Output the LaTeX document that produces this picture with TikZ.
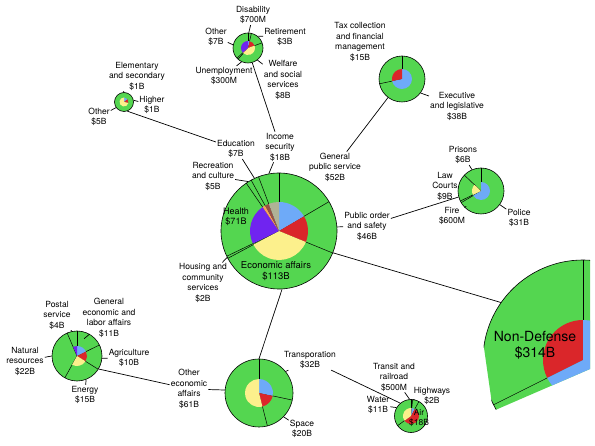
\documentclass[tikz,border=0pt]{standalone}
\usepackage{fontspec}
\setmainfont{TeX Gyre Heros}
\definecolor{hb_green}{RGB}{84,214,80}
\definecolor{hb_blue}{RGB}{110,170,248}
\definecolor{hb_red}{RGB}{218,38,42}
\definecolor{hb_yellow}{RGB}{252,240,140}
\definecolor{hb_purple}{RGB}{112,36,240}
\definecolor{hb_orange}{RGB}{246,160,90}
\definecolor{hb_brown}{RGB}{150,80,70}
\definecolor{hb_khaki}{RGB}{176,178,150}
\definecolor{hb_gray}{RGB}{150,150,150}
\tikzstyle{ring}=[circle,fill=hb_green,draw=black,line width=0.6pt,inner sep=0pt]
\tikzstyle{lbl}=[align=center,inner sep=1pt,font=\fontsize{8.5}{10.5}\selectfont]
\tikzstyle{link}=[line width=0.7pt]
\newcommand{\wedgefill}[5]{%
  \fill [#5] (#1.center) -- ++(#3:#2) arc [start angle=#3, end angle=#4, radius=#2] -- cycle;}
\newcommand{\spokes}[3]{%
  \foreach \a in {#3} \draw [line width=0.5pt] (#1.center) -- ++(\a:#2);}

\begin{document}
\begin{tikzpicture}[x=1pt,y=1pt]
    \useasboundingbox (0,0) rectangle (595,-446);
    \fill [white] (0,0) rectangle (595,-446);

    % centre: non-defense children
    \node [style=ring, minimum size=116pt] (cen) at (279,-231) {};
    \spokes{cen}{58}{90,30.4,-22.3,-151.9,-154.2,124.4,118.7,110.7}
    \wedgefill{cen}{29}{90}{30.4}{hb_blue}
    \wedgefill{cen}{29}{30.4}{-22.3}{hb_red}
    \wedgefill{cen}{29}{-22.3}{-151.9}{hb_yellow}
    \wedgefill{cen}{29}{-154.2}{-235.6}{hb_purple}
    \wedgefill{cen}{29}{-235.6}{-241.3}{hb_orange}
    \wedgefill{cen}{29}{-241.3}{-249.3}{hb_brown}
    \wedgefill{cen}{29}{-249.3}{-270}{hb_khaki}

    % general public service
    \node [style=ring, minimum size=46pt] (gps) at (402,-79) {};
    \spokes{gps}{23}{90,-168}
    \wedgefill{gps}{10}{90}{-168}{hb_blue}
    \wedgefill{gps}{10}{-168}{-270}{hb_red}

    % public order and safety
    \node [style=ring, minimum size=46pt] (pos) at (481,-191) {};
    \spokes{pos}{23}{90,-149.5,-154.1,136.4}
    \wedgefill{pos}{9}{90}{-149.5}{hb_blue}
    \wedgefill{pos}{9}{-154.1}{-223.6}{hb_yellow}

    % income security
    \node [style=ring, minimum size=30pt] (inc) at (248,-48) {};
    \spokes{inc}{15}{90,77,20,-131.6,-137.3}
    \wedgefill{inc}{7}{90}{77}{hb_blue}
    \wedgefill{inc}{7}{77}{20}{hb_red}
    \wedgefill{inc}{7}{20}{-131.6}{hb_yellow}
    \wedgefill{inc}{7}{-131.6}{-137.3}{hb_orange}
    \wedgefill{inc}{7}{-137.3}{-270}{hb_purple}

    % education
    \node [style=ring, minimum size=19pt] (edu) at (124,-102) {};
    \wedgefill{edu}{4.5}{90}{38.6}{hb_blue}
    \wedgefill{edu}{4.5}{38.6}{-12.9}{hb_red}
    \wedgefill{edu}{4.5}{-12.9}{-270}{hb_yellow}

    % economic affairs
    \node [style=ring, minimum size=68pt] (oea) at (259,-393) {};
    \spokes{oea}{34}{90,-12,-75.7}
    \wedgefill{oea}{14}{90}{-12}{hb_blue}
    \wedgefill{oea}{14}{-12}{-75.7}{hb_red}
    \wedgefill{oea}{14}{-75.7}{-270}{hb_yellow}

    % other economic affairs
    \node [style=ring, minimum size=50pt] (ooe) at (77,-356) {};
    \spokes{ooe}{25}{90,26.1,-32,-119.1,113.2}
    \wedgefill{ooe}{10}{90}{26.1}{hb_blue}
    \wedgefill{ooe}{10}{26.1}{-32}{hb_red}
    \wedgefill{ooe}{10}{-32}{-119.1}{hb_yellow}
    \wedgefill{ooe}{10}{-246.8}{-270}{hb_purple}

    % transportation
    \node [style=ring, minimum size=33pt] (trn) at (411,-416) {};
    \spokes{trn}{16.5}{90,84.3,61.4,-144.3}
    \wedgefill{trn}{8}{90}{84.3}{hb_gray}
    \wedgefill{trn}{8}{84.3}{61.4}{hb_blue}
    \wedgefill{trn}{8}{61.4}{-144.3}{hb_red}
    \wedgefill{trn}{8}{-144.3}{-270}{hb_yellow}

    % non-defense, cut by the frame
    \begin{scope}
        \clip (470,-250) -- (590,-250) -- (590,-369) -- (493,-411) -- cycle;
        \node [style=ring, minimum size=200pt] (nd) at (583,-360) {};
        \spokes{nd}{100}{90,206.6}
        \wedgefill{nd}{40}{90}{206.6}{hb_red}
        \wedgefill{nd}{40}{206.6}{450}{hb_blue}
    \end{scope}
    \node [align=center, font=\fontsize{14}{16}\selectfont] (lnd) at (535,-345) {Non-Defense\\\$314B};

    % labels
    \node [style=lbl] (lgps) at (335,-167) {General\\public service\\\$52B};
    \node [style=lbl] (lpos) at (367,-226) {Public order\\and safety\\\$46B};
    \node [style=lbl] (linc) at (280,-147) {Income\\security\\\$18B};
    \node [style=lbl] (ledu) at (236,-149) {Education\\\$7B};
    \node [style=lbl] (lrec) at (213,-176) {Recreation\\and culture\\\$5B};
    \node [style=lbl] (lhou) at (203,-283) {Housing and\\community\\services\\\$2B};
    \node [style=lbl, font=\fontsize{9}{10.5}\selectfont] (lhea) at (236,-217) {Health\\\$71B};
    \node [style=lbl, font=\fontsize{9.5}{11.5}\selectfont] (leco) at (276,-271) {Economic affairs\\\$113B};

    \node [style=lbl] (ltax) at (360,-42) {Tax collection\\and financial\\management\\\$15B};
    \node [style=lbl] (lexe) at (457,-106) {Executive\\and legislative\\\$38B};

    \node [style=lbl] (lpri) at (463,-155) {Prisons\\\$6B};
    \node [style=lbl] (llaw) at (445,-186) {Law\\Courts\\\$9B};
    \node [style=lbl] (lfir) at (452,-216) {Fire\\\$600M};
    \node [style=lbl] (lpol) at (519,-218) {Police\\\$31B};

    \node [style=lbl] (ldis) at (253,-15) {Disability\\\$700M};
    \node [style=lbl] (lret) at (285,-37) {Retirement\\\$3B};
    \node [style=lbl] (loth) at (216,-37) {Other\\\$7B};
    \node [style=lbl] (lune) at (224,-76) {Unemployment\\\$300M};
    \node [style=lbl] (lwel) at (283,-80) {Welfare\\and social\\services\\\$8B};

    \node [style=lbl] (lele) at (137,-76) {Elementary\\and secondary\\\$1B};
    \node [style=lbl] (lhig) at (152,-105) {Higher\\\$1B};
    \node [style=lbl] (leot) at (99,-117) {Other\\\$5B};

    \node [style=lbl] (ltra) at (310,-360) {Transporation\\\$32B};
    \node [style=lbl] (lspa) at (302,-429) {Space\\\$20B};
    \node [style=lbl] (loea) at (189,-389) {Other\\economic\\affairs\\\$61B};

    \node [style=lbl] (lpst) at (57,-315) {Postal\\service\\\$4B};
    \node [style=lbl] (lgen) at (109,-318) {General\\economic and\\labor affairs\\\$11B};
    \node [style=lbl] (lagr) at (129,-358) {Agriculture\\\$10B};
    \node [style=lbl] (lnat) at (25,-361) {Natural\\resources\\\$22B};
    \node [style=lbl] (lene) at (85,-395) {Energy\\\$15B};

    \node [style=lbl] (ltrs) at (394,-377) {Transit and\\railroad\\\$500M};
    \node [style=lbl] (lhwy) at (432,-396) {Highways\\\$2B};
    \node [style=lbl] (lwat) at (378,-405) {Water\\\$11B};
    \node [style=lbl] (lair) at (419,-418) {Air\\\$18B};

    % connectors between levels
    \draw [style=link] (cen.60) -- (lgps);
    \draw [style=link] (lgps) -- (gps.-127);
    \draw [style=link] (cen.4) -- (lpos);
    \draw [style=link] (lpos) -- (pos.195);
    \draw [style=link] (cen.100) -- (linc);
    \draw [style=link] (linc) -- (inc.-74);
    \draw [style=link] (cen.115) -- (ledu);
    \draw [style=link] (ledu) -- (edu.-70);
    \draw [style=link] (cen.122) -- (lrec);
    \draw [style=link] (cen.-153) -- (lhou);
    \draw [style=link] (cen.-87) -- (oea.90);
    \draw [style=link] (cen.-22) -- (nd.145);
    \draw [style=link] (oea.175) -- (loea);
    \draw [style=link] (loea) -- (ooe.-31);
    \draw [style=link] (oea.39) -- (ltra);
    \draw [style=link] (ltra) -- (trn.130);

    % ticks to leaf labels
    \draw [style=link] (gps.135) -- (ltax);
    \draw [style=link] (gps.-37) -- (lexe);
    \draw [style=link] (pos.113) -- (lpri);
    \draw [style=link] (pos.172) -- (llaw);
    \draw [style=link] (pos.225) -- (lfir);
    \draw [style=link] (pos.-36) -- (lpol);
    \draw [style=link] (inc.87) -- (ldis);
    \draw [style=link] (inc.51) -- (lret);
    \draw [style=link] (inc.168) -- (loth);
    \draw [style=link] (inc.-115) -- (lune);
    \draw [style=link] (inc.-52) -- (lwel);
    \draw [style=link] (edu.95) -- (lele);
    \draw [style=link] (edu.10) -- (lhig);
    \draw [style=link] (edu.215) -- (leot);
    \draw [style=link] (oea.-44) -- (lspa);
    \draw [style=link] (ooe.102) -- (lpst);
    \draw [style=link] (ooe.60) -- (lgen);
    \draw [style=link] (ooe.-5) -- (lagr);
    \draw [style=link] (ooe.180) -- (lnat);
    \draw [style=link] (ooe.-69) -- (lene);
    \draw [style=link] (trn.95) -- (ltrs);
    \draw [style=link] (trn.78) -- (lhwy);
    \draw [style=link] (trn.150) -- (lwat);
\end{tikzpicture}
\end{document}
